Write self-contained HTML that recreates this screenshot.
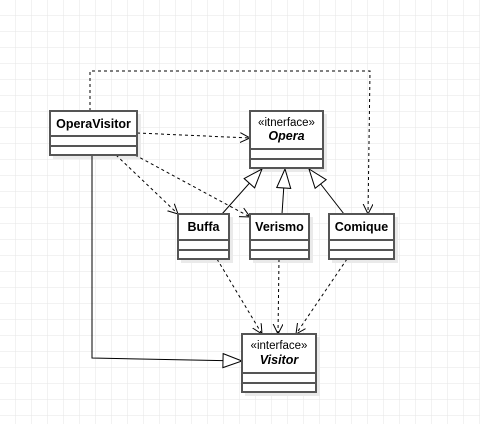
<!DOCTYPE html>
<html><head><style>
html,body{margin:0;padding:0;background:#fff;}
svg{display:block;font-family:"Liberation Sans",sans-serif;}
</style></head><body>
<svg width="480" height="424" viewBox="0 0 480 424" xmlns="http://www.w3.org/2000/svg">
<defs>
<pattern id="g" width="16" height="16" patternUnits="userSpaceOnUse">
<path d="M16 0V16M0 16H16" stroke="#e6e6e6" stroke-width="1" fill="none"/>
</pattern>
<marker id="open" markerWidth="12" markerHeight="12" refX="10" refY="5" orient="auto" markerUnits="userSpaceOnUse">
<path d="M0 0L10 5L0 10" fill="none" stroke="#000" stroke-width="1"/>
</marker>
<marker id="tri" markerWidth="22" markerHeight="18" refX="20" refY="8" orient="auto" markerUnits="userSpaceOnUse">
<path d="M1 1L20 8L1 15Z" fill="#fff" stroke="#000" stroke-width="1"/>
</marker>
</defs>
<rect width="480" height="424" fill="url(#g)"/>
<g fill="#eaeaea">
<rect x="53" y="114" width="88" height="45"/>
<rect x="253" y="114" width="74" height="58"/>
<rect x="181" y="217" width="52" height="46"/>
<rect x="253" y="217" width="60" height="46"/>
<rect x="332" y="217" width="66" height="46"/>
<rect x="245" y="337" width="75" height="59"/>
</g>
<g stroke="#000" stroke-width="1" fill="none">
<path d="M90 111V71H370L368 214" stroke-dasharray="3,3" marker-end="url(#open)"/>
<path d="M137 133L250 138" stroke-dasharray="3,3" marker-end="url(#open)"/>
<path d="M116 155L178 214" stroke-dasharray="3,3" marker-end="url(#open)"/>
<path d="M135 155L250 217" stroke-dasharray="3,3" marker-end="url(#open)"/>
<path d="M222 214L262 169" marker-end="url(#tri)"/>
<path d="M282 214L285 169" marker-end="url(#tri)"/>
<path d="M344 214L309 169" marker-end="url(#tri)"/>
<path d="M92 155V358L242 361" marker-end="url(#tri)"/>
<path d="M217 259L262 334" stroke-dasharray="3,3" marker-end="url(#open)"/>
<path d="M279 259L278 334" stroke-dasharray="3,3" marker-end="url(#open)"/>
<path d="M347 259L296 334" stroke-dasharray="3,3" marker-end="url(#open)"/>
</g>
<g stroke="#555" stroke-width="2" fill="#fff">
<rect x="50" y="111" width="87" height="44"/>
<path d="M50 136H137M50 146H137"/>
<rect x="250" y="111" width="73" height="57"/>
<path d="M250 149H323M250 159H323"/>
<rect x="178" y="214" width="51" height="45"/>
<path d="M178 240H229M178 250H229"/>
<rect x="250" y="214" width="59" height="45"/>
<path d="M250 240H309M250 250H309"/>
<rect x="329" y="214" width="65" height="45"/>
<path d="M329 240H394M329 250H394"/>
<rect x="242" y="334" width="74" height="58"/>
<path d="M242 373H316M242 383H316"/>
</g>
<g font-size="12.5" text-anchor="middle" fill="#000">
<text x="93.5" y="128" font-weight="bold">OperaVisitor</text>
<text x="286.5" y="126" font-size="11.5">«itnerface»</text>
<text x="286.5" y="140" font-weight="bold" font-style="italic">Opera</text>
<text x="203.5" y="231" font-weight="bold">Buffa</text>
<text x="279.5" y="231" font-weight="bold">Verismo</text>
<text x="361.5" y="231" font-weight="bold">Comique</text>
<text x="279" y="349" font-size="11.5">«interface»</text>
<text x="279" y="364" font-weight="bold" font-style="italic">Visitor</text>
</g>
</svg>
</body></html>
